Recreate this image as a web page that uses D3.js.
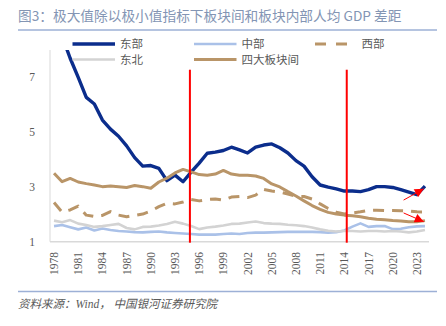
<!DOCTYPE html>
<html>
<head>
  <meta charset="utf-8">
  <title>板块间和板块内部人均 GDP 差距</title>
  <script src="https://d3js.org/d3.v7.min.js"></script>
  <style>
    body { margin: 0; background: #fff; }
    svg { display: block; }
  </style>
</head>
<body>
  <div id="chart"></div>
  <script>
  const years = d3.range(1978, 2025);
  const yTicks = [1, 3, 5, 7];
  const xTicks = d3.range(1978, 2024, 3);

  const east = [9.2, 8.5, 7.7, 7.0, 6.27, 6.03, 5.44, 5.11, 4.85, 4.5,
    4.07, 3.76, 3.78, 3.68, 3.23, 3.43, 3.19, 3.54, 3.87, 4.23,
    4.27, 4.33, 4.45, 4.35, 4.24, 4.45, 4.53, 4.57, 4.43, 4.24,
    3.96, 3.76, 3.37, 3.07, 2.99, 2.93, 2.85, 2.85, 2.83, 2.90,
    3.01, 3.01, 2.98, 2.90, 2.81, 2.72, 3.03];
  const central = [1.57, 1.61, 1.53, 1.45, 1.52, 1.41, 1.48, 1.43, 1.39, 1.37,
    1.35, 1.34, 1.36, 1.37, 1.34, 1.32, 1.30, 1.28, 1.26, 1.26,
    1.26, 1.28, 1.30, 1.28, 1.32, 1.33, 1.33, 1.34, 1.35, 1.36,
    1.36, 1.36, 1.36, 1.35, 1.33, 1.35, 1.41, 1.55, 1.67, 1.54,
    1.57, 1.57, 1.46, 1.47, 1.53, 1.56, 1.57];
  const west = [2.43, 2.08, 2.16, 2.30, 1.97, 1.92, 1.96, 2.10, 1.97, 1.91,
    1.96, 2.01, 2.12, 2.28, 2.40, 2.38, 2.45, 2.54, 2.49, 2.54,
    2.56, 2.52, 2.63, 2.65, 2.61, 2.70, 2.91, 2.85, 2.81, 2.74,
    2.66, 2.65, 2.56, 2.38, 2.21, 2.08, 2.01, 2.05, 2.09, 2.14,
    2.15, 2.14, 2.14, 2.13, 2.12, 2.09, 2.08];
  const northeast = [1.77, 1.71, 1.79, 1.66, 1.61, 1.54, 1.57, 1.61, 1.65, 1.50,
    1.45, 1.54, 1.55, 1.59, 1.65, 1.73, 1.66, 1.57, 1.46, 1.52,
    1.55, 1.59, 1.65, 1.66, 1.70, 1.74, 1.68, 1.66, 1.65, 1.62,
    1.60, 1.57, 1.52, 1.45, 1.40, 1.37, 1.39, 1.39, 1.37, 1.39,
    1.39, 1.37, 1.39, 1.37, 1.34, 1.37, 1.43];
  const between = [3.50, 3.19, 3.31, 3.18, 3.12, 3.07, 3.01, 3.03, 3.01, 2.98,
    3.05, 3.01, 2.95, 3.18, 3.32, 3.51, 3.64, 3.55, 3.45, 3.43,
    3.47, 3.60, 3.47, 3.43, 3.43, 3.40, 3.31, 3.11, 3.00, 2.83,
    2.67, 2.49, 2.32, 2.18, 2.07, 2.01, 1.97, 1.95, 1.91, 1.86,
    1.82, 1.80, 1.77, 1.76, 1.73, 1.73, 1.77];

  // policy break years and the two end arrows (year, value)
  const breakYears = [1994.85, 2014.3];
  const arrows = [
    { from: [2021.35, 2.52], to: [2023.85, 2.93] },
    { from: [2021.35, 2.05], to: [2023.85, 1.73] }
  ];

  const series = [
    { name: "东部", values: east, color: "#0b2d8c", width: 3.4 },
    { name: "中部", values: central, color: "#aac1e8", width: 2.6 },
    { name: "西部", values: west, color: "#b99568", width: 3, dash: "11,8" },
    { name: "东北", values: northeast, color: "#d3d3d3", width: 2.6 },
    { name: "四大板块间", values: between, color: "#b99568", width: 3 }
  ];

  const W = 446, H = 326;
  const plot = { left: 50, right: 429, top: 50, bottom: 241.7 };

  const svg = d3.select("#chart")
    .append("svg")
    .attr("width", W)
    .attr("height", H);

  const x = d3.scaleLinear()
    .domain([1977.5, 2024.5])
    .range([plot.left, plot.right]);

  const y = d3.scaleLinear()
    .domain([1, 8])
    .range([plot.bottom, plot.top]);

  // title and rules
  svg.append("text")
    .attr("x", 18)
    .attr("y", 21)
    .attr("font-family", "'Noto Sans CJK SC', sans-serif")
    .attr("font-size", 13.7)
    .attr("fill", "#8395b4")
    .text("图3：极大值除以极小值指标下板块间和板块内部人均 GDP 差距");

  svg.append("line")
    .attr("x1", 18).attr("x2", 437)
    .attr("y1", 30).attr("y2", 30)
    .attr("stroke", "#9db0d6")
    .attr("stroke-width", 1.5);

  svg.append("line")
    .attr("x1", 18).attr("x2", 437)
    .attr("y1", 291.5).attr("y2", 291.5)
    .attr("stroke", "#9db0d6")
    .attr("stroke-width", 1.5);

  svg.append("text")
    .attr("x", 18)
    .attr("y", 308)
    .attr("font-family", "'Liberation Serif', 'Noto Sans CJK SC', serif")
    .attr("font-style", "italic")
    .attr("font-size", 11.5)
    .attr("fill", "#595959")
    .text("资料来源：Wind， 中国银河证券研究院");

  // axes
  svg.append("line")
    .attr("x1", plot.left).attr("x2", plot.left)
    .attr("y1", plot.top).attr("y2", plot.bottom)
    .attr("stroke", "#d9d9d9")
    .attr("stroke-width", 1);

  svg.append("line")
    .attr("x1", plot.left).attr("x2", plot.right)
    .attr("y1", plot.bottom).attr("y2", plot.bottom)
    .attr("stroke", "#d9d9d9")
    .attr("stroke-width", 1.5);

  svg.selectAll(".ytick")
    .data(yTicks)
    .enter()
    .append("text")
    .attr("class", "ytick")
    .attr("x", 35)
    .attr("y", d => y(d))
    .attr("dy", "0.35em")
    .attr("text-anchor", "end")
    .attr("font-family", "'Liberation Serif', serif")
    .attr("font-size", 11.5)
    .attr("fill", "#595959")
    .text(d => d);

  svg.selectAll(".xtick")
    .data(xTicks)
    .enter()
    .append("text")
    .attr("class", "xtick")
    .attr("transform", d => `translate(${x(d)},252) rotate(-90)`)
    .attr("dy", "0.35em")
    .attr("text-anchor", "end")
    .attr("font-family", "'Liberation Serif', serif")
    .attr("font-size", 11.5)
    .attr("fill", "#595959")
    .text(d => d);

  // series lines, clipped to the plot
  svg.append("clipPath")
    .attr("id", "plot-clip")
    .append("rect")
    .attr("x", plot.left)
    .attr("y", plot.top)
    .attr("width", plot.right - plot.left)
    .attr("height", plot.bottom - plot.top);

  const line = d3.line()
    .x((d, i) => x(years[i]))
    .y(d => y(d));

  svg.append("g")
    .attr("clip-path", "url(#plot-clip)")
    .selectAll("path")
    .data(series)
    .enter()
    .append("path")
    .attr("d", d => line(d.values))
    .attr("fill", "none")
    .attr("stroke", d => d.color)
    .attr("stroke-width", d => d.width)
    .attr("stroke-dasharray", d => d.dash || null)
    .attr("stroke-linejoin", "round");

  // break markers
  svg.selectAll(".break")
    .data(breakYears)
    .enter()
    .append("line")
    .attr("class", "break")
    .attr("x1", d => x(d)).attr("x2", d => x(d))
    .attr("y1", y(7.28)).attr("y2", plot.bottom + 1)
    .attr("stroke", "#ff0000")
    .attr("stroke-width", 2);

  svg.append("defs")
    .append("marker")
    .attr("id", "head")
    .attr("viewBox", "0 0 10 10")
    .attr("refX", 10)
    .attr("refY", 5)
    .attr("markerWidth", 10)
    .attr("markerHeight", 9)
    .attr("markerUnits", "userSpaceOnUse")
    .attr("orient", "auto")
    .append("path")
    .attr("d", "M0,0L10,5L0,10Z")
    .attr("fill", "#ff0000");

  svg.selectAll(".arrow")
    .data(arrows)
    .enter()
    .append("line")
    .attr("class", "arrow")
    .attr("x1", d => x(d.from[0])).attr("y1", d => y(d.from[1]))
    .attr("x2", d => x(d.to[0])).attr("y2", d => y(d.to[1]))
    .attr("stroke", "#ff0000")
    .attr("stroke-width", 1)
    .attr("marker-end", "url(#head)");

  // legend
  const legendItems = [
    { s: series[0], lx: 72.5, ly: 44 },
    { s: series[1], lx: 194, ly: 44 },
    { s: series[2], lx: 315, ly: 44 },
    { s: series[3], lx: 72.5, ly: 59.5 },
    { s: series[4], lx: 194, ly: 59.5 }
  ];

  const legend = svg.append("g");
  legend.selectAll("line")
    .data(legendItems)
    .enter()
    .append("line")
    .attr("x1", d => d.lx)
    .attr("x2", d => d.lx + (d.s.dash ? 33 : 42.5))
    .attr("y1", d => d.ly).attr("y2", d => d.ly)
    .attr("stroke", d => d.s.color)
    .attr("stroke-width", d => d.s.width)
    .attr("stroke-dasharray", d => d.s.dash ? "11,10" : null);

  legend.selectAll("text")
    .data(legendItems)
    .enter()
    .append("text")
    .attr("x", d => d.lx + (d.s.dash ? 46.5 : 47.5))
    .attr("y", d => d.ly)
    .attr("dy", "0.36em")
    .attr("font-family", "'Noto Sans CJK SC', sans-serif")
    .attr("font-size", 11.5)
    .attr("fill", "#595959")
    .text(d => d.s.name);
  </script>
</body>
</html>
